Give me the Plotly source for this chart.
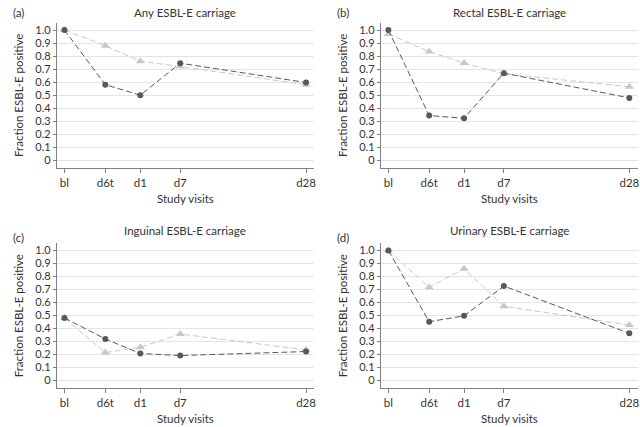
import plotly.graph_objects as go

visits = ["bl", "d6t", "d1", "d7", "d28"]
visit_pos = [0, 4.1, 7.6, 11.6, 24.2]

panel_titles = ["Any ESBL-E carriage", "Rectal ESBL-E carriage",
                "Inguinal ESBL-E carriage", "Urinary ESBL-E carriage"]
panel_tags = ["(a)", "(b)", "(c)", "(d)"]

dark_any = [1.0, 0.58, 0.50, 0.745, 0.597]
light_any = [1.0, 0.88, 0.76, 0.72, 0.58]
dark_rectal = [1.0, 0.343, 0.323, 0.669, 0.479]
light_rectal = [0.97, 0.835, 0.746, 0.664, 0.564]
dark_inguinal = [0.48, 0.319, 0.207, 0.191, 0.222]
light_inguinal = [0.48, 0.214, 0.255, 0.357, 0.235]
dark_urinary = [1.0, 0.452, 0.497, 0.727, 0.362]
light_urinary = [1.0, 0.717, 0.86, 0.571, 0.426]

dark_series = [dark_any, dark_rectal, dark_inguinal, dark_urinary]
light_series = [light_any, light_rectal, light_inguinal, light_urinary]

y_ticks = [0, 0.1, 0.2, 0.3, 0.4, 0.5, 0.6, 0.7, 0.8, 0.9, 1.0]
y_tick_text = ["0", "0.1", "0.2", "0.3", "0.4", "0.5", "0.6", "0.7", "0.8", "0.9", "1.0"]

W, H = 640, 427
FONT = "Lato"
TXT = "#333333"
DARK = "#585858"
LIGHT = "#c8c8c8"
FS = 11.5
TFS = 11

# pixel layout of each panel: (left, right, top, bottom, xrange_right)
panels = [
    (57, 315, 22.7, 168, 25.0),
    (382, 640, 22.7, 168, 25.07),
    (57, 315, 243.3, 388, 25.0),
    (382, 640, 243.3, 388, 25.07),
]

fig = go.Figure()
layout = dict(
    width=W, height=H,
    margin=dict(l=0, r=0, t=0, b=0),
    paper_bgcolor="white", plot_bgcolor="white",
    showlegend=False,
    font=dict(family=FONT, size=FS, color=TXT),
)
annotations = []
for i in range(4):
    left, right, top, bottom, xr = panels[i]
    xa = "x" if i == 0 else f"x{i+1}"
    ya = "y" if i == 0 else f"y{i+1}"
    fig.add_trace(go.Scatter(
        x=visit_pos, y=light_series[i], mode="lines+markers",
        line=dict(color=LIGHT, width=1, dash="6px,3px"),
        marker=dict(symbol="triangle-up", size=8, color=LIGHT),
        xaxis=xa, yaxis=ya, cliponaxis=False))
    fig.add_trace(go.Scatter(
        x=visit_pos, y=dark_series[i], mode="lines+markers",
        line=dict(color=DARK, width=1, dash="6px,3px"),
        marker=dict(symbol="circle", size=6, color=DARK),
        xaxis=xa, yaxis=ya, cliponaxis=False))
    xkey = "xaxis" if i == 0 else f"xaxis{i+1}"
    ykey = "yaxis" if i == 0 else f"yaxis{i+1}"
    layout[xkey] = dict(
        domain=[left / W, right / W], anchor=ya,
        range=[-0.76, xr], tickvals=visit_pos, ticktext=visits,
        showline=True, linecolor="#808080", linewidth=1,
        ticks="outside", ticklen=4, tickcolor="#808080",
        showgrid=False, zeroline=False, ticklabeloverflow="allow",
        tickfont=dict(size=FS, color=TXT),
        title=dict(text="Study visits", font=dict(size=FS, color=TXT), standoff=7),
    )
    layout[ykey] = dict(
        domain=[1 - bottom / H, 1 - top / H], anchor=xa,
        range=[-0.059, 1.056], tickvals=y_ticks, ticktext=y_tick_text,
        showline=True, linecolor="#808080", linewidth=1,
        ticks="outside", ticklen=3, tickcolor="#808080",
        showgrid=True, gridcolor="#e4e4e4", gridwidth=1, zeroline=False,
        tickfont=dict(size=TFS, color=TXT),
        title=dict(text="Fraction ESBL-E positive", font=dict(size=FS, color=TXT), standoff=9),
    )
    title_y = 12 if i < 2 else 230
    tag_y = 12 if i < 2 else 238
    annotations.append(dict(
        text=panel_titles[i], x=(left + 8 + 121) / W,
        y=1 - title_y / H, xref="paper", yref="paper",
        xanchor="center", yanchor="middle", showarrow=False,
        font=dict(size=FS, color=TXT)))
    annotations.append(dict(
        text=panel_tags[i], x=(11 if i % 2 == 0 else 336) / W,
        y=1 - tag_y / H, xref="paper", yref="paper",
        xanchor="left", yanchor="middle", showarrow=False,
        font=dict(size=FS, color=TXT)))

layout["annotations"] = annotations
fig.update_layout(**layout)
fig.write_html("out.html")
